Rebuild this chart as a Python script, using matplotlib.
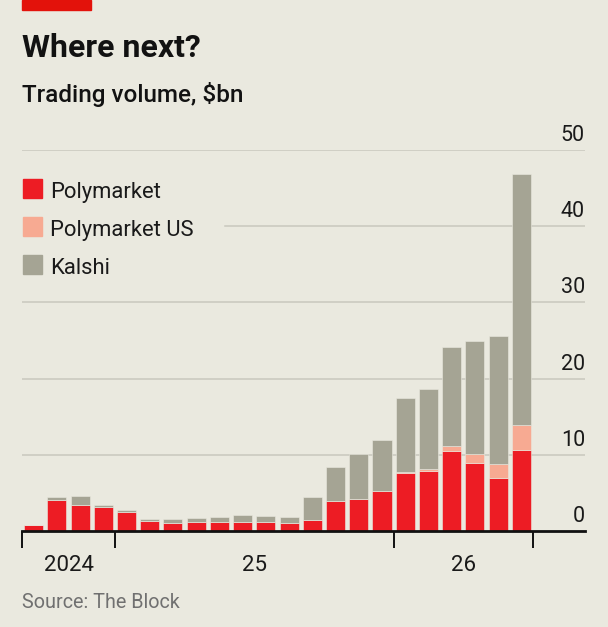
import matplotlib.pyplot as plt
import matplotlib.transforms as mtransforms
from matplotlib.patches import Rectangle
import numpy as np

plt.rcParams['font.family'] = ['Roboto', 'DejaVu Sans']

months = ['Sep 24', 'Oct 24', 'Nov 24', 'Dec 24',
          'Jan 25', 'Feb 25', 'Mar 25', 'Apr 25', 'May 25', 'Jun 25',
          'Jul 25', 'Aug 25', 'Sep 25', 'Oct 25', 'Nov 25', 'Dec 25',
          'Jan 26', 'Feb 26', 'Mar 26', 'Apr 26', 'May 26', 'Jun 26']
polymarket = [0.8, 4.1, 3.4, 3.1, 2.5, 1.35, 1.1, 1.2, 1.15, 1.2, 1.15, 1.0,
              1.5, 3.9, 4.2, 5.2, 7.6, 7.9, 10.5, 8.9, 7.0, 10.6]
polymarket_us = [0, 0, 0, 0, 0, 0, 0, 0, 0, 0, 0, 0,
                 0, 0, 0, 0, 0.2, 0.25, 0.7, 1.25, 1.75, 3.25]
kalshi = [0, 0.3, 1.2, 0.3, 0.3, 0.25, 0.5, 0.5, 0.75, 0.85, 0.85, 0.9,
          2.9, 4.5, 5.9, 6.7, 9.6, 10.45, 13.0, 14.85, 16.85, 33.05]
years = ['2024', '25', '26']
year_counts = [4, 12, 6]
yticks = [0, 10, 20, 30, 40, 50]

series = [('Polymarket', polymarket, '#ED1C24'),
          ('Polymarket US', polymarket_us, '#F7AA92'),
          ('Kalshi', kalshi, '#A5A494')]
bg = '#EAE9DF'

W, H = 608, 627
fig = plt.figure(figsize=(W / 100, H / 100), dpi=100, facecolor=bg)
ax = fig.add_axes([22 / W, (H - 531) / H, (585 - 22) / W, 381 / H])
ax.set_facecolor(bg)

x = np.arange(len(months))
bottom = np.zeros(len(months))
for name, vals, col in series:
    vals = np.array(vals)
    ax.bar(x, vals, 0.82, bottom=bottom, color=col, zorder=3,
           edgecolor=bg, linewidth=0.4)
    bottom += vals

ax.set_xlim(-0.5, 23.74)
ax.set_ylim(0, 50)

# gridlines (40 line stops short of the legend)
for v in yticks[1:]:
    xmin = 0.36 if v == 40 else 0
    ax.axhline(v, xmin=xmin, xmax=1, color='#C9C8BE', lw=1.1, zorder=1)

# y labels sitting on the gridlines, right side
trans = mtransforms.offset_copy(ax.get_yaxis_transform(), fig=fig, y=4, units='dots')
for v in yticks:
    ax.text(1.0, v, str(v), transform=trans, ha='right', va='bottom',
            fontsize=15.5, color='#1a1a1a')

for s in ['top', 'right', 'left']:
    ax.spines[s].set_visible(False)
ax.spines['bottom'].set_linewidth(2)
ax.spines['bottom'].set_color('#111111')
ax.spines['bottom'].set_zorder(4)
ax.set_yticks([])

bounds = np.concatenate([[0], np.cumsum(year_counts)]) - 0.5
ax.set_xticks(bounds)
ax.set_xticklabels([])
ax.tick_params(axis='x', length=12, width=1.4, color='#111111', direction='out')

ytrans = ax.get_xaxis_transform()
for i, lab in enumerate(years):
    ax.text((bounds[i] + bounds[i + 1]) / 2, -0.104, lab, transform=ytrans,
            ha='center', va='baseline', fontsize=16, color='#1a1a1a')

# legend
for i, (name, vals, col) in enumerate(series):
    yc = 188.5 + i * 38
    fig.add_artist(Rectangle((23 / W, 1 - (yc + 9.5) / H), 19 / W, 19 / H,
                             transform=fig.transFigure, color=col))
    fig.text(50 / W, 1 - (yc + 9.5) / H, name, fontsize=15.8,
             color='#1a1a1a', va='baseline')

# header
fig.add_artist(Rectangle((22 / W, 1 - 10 / H), 69 / W, 10 / H,
                         transform=fig.transFigure, color='#E3120B'))
fig.text(22 / W, 1 - 57 / H, 'Where next?', fontsize=23, fontweight='bold',
         color='#121212', va='baseline')
fig.text(22 / W, 1 - 102 / H, 'Trading volume, $bn', fontsize=17.5,
         fontweight='medium', color='#121212', va='baseline')
fig.text(22 / W, 1 - 608 / H, 'Source: The Block', fontsize=14.2,
         color='#707070', va='baseline')

fig.savefig('out.png', dpi=100, facecolor=bg)
